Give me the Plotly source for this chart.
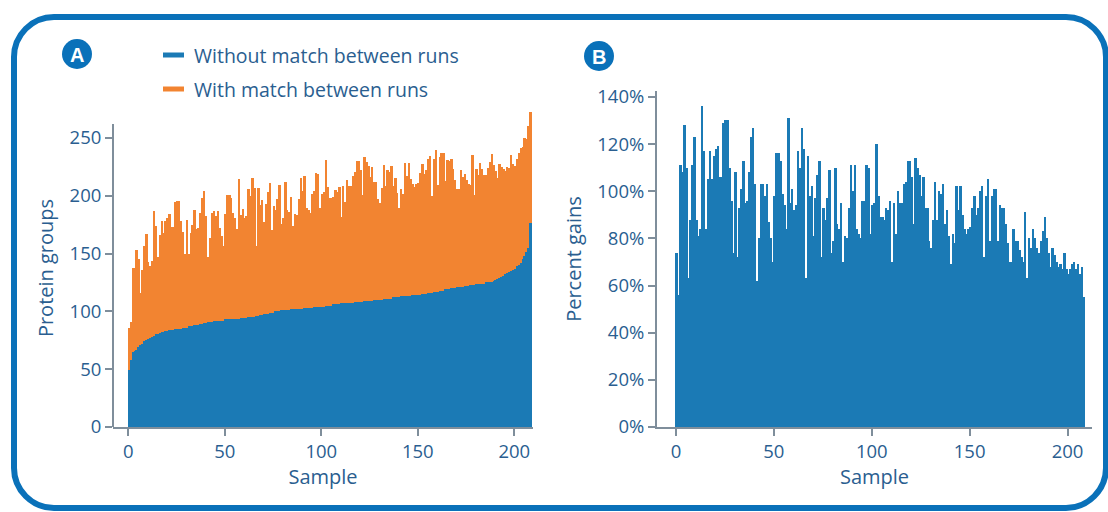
import plotly.graph_objects as go

# Protein groups per sample identified without match between runs (sorted ascending)
without_mbr = [
    49, 58, 65, 66, 67, 69, 71, 72, 74, 75, 76,
    77, 78, 79, 80, 80, 81, 82, 82, 83, 83,
    84, 84, 84, 85, 85, 85, 85, 86, 86, 86,
    87, 87, 87, 88, 88, 88, 89, 89, 90, 90,
    91, 91, 91, 92, 92, 92, 92, 92, 92, 93,
    93, 93, 93, 93, 93, 93, 93, 94, 94, 94,
    94, 95, 95, 95, 95, 96, 96, 97, 97, 98,
    98, 98, 99, 99, 99, 100, 100, 100, 101, 101,
    101, 101, 101, 102, 102, 102, 102, 102, 102, 102,
    103, 103, 103, 103, 103, 104, 104, 104, 104, 104,
    104, 105, 105, 105, 105, 106, 106, 106, 106, 107,
    107, 107, 107, 107, 107, 107, 108, 108, 108, 108,
    108, 109, 109, 109, 109, 109, 110, 110, 110, 110,
    110, 111, 111, 111, 111, 111, 112, 112, 112, 112,
    113, 113, 113, 113, 113, 113, 114, 114, 114, 114,
    114, 115, 115, 115, 116, 116, 116, 117, 117, 117,
    118, 118, 118, 119, 119, 119, 120, 120, 120, 121,
    121, 121, 121, 122, 122, 122, 123, 123, 123, 124,
    124, 124, 124, 124, 125, 125, 125, 125, 126, 127,
    128, 129, 130, 131, 132, 133, 134, 135, 136, 137,
    139, 140, 142, 145, 148, 151, 155, 176,
]

# Percent gain in protein groups when match between runs is enabled
gain_pct = [
    74, 56, 111, 108, 128, 110, 63, 88, 111, 123,
    88, 81, 84, 136, 117, 84, 105, 117, 105, 115,
    118, 119, 106, 106, 129, 130, 130, 110, 96, 74,
    108, 72, 93, 101, 113, 95, 96, 108, 123, 127,
    103, 62, 80, 103, 103, 98, 103, 87, 80, 70,
    98, 116, 116,
    113, 99, 94, 84, 131, 95, 101, 92, 94, 117,
    110, 127, 118, 63, 115, 98, 102, 81, 97, 107,
    113, 72, 93, 88, 97, 109, 74, 79, 110, 86,
    84, 95, 70, 81, 80, 93, 111, 100, 111, 84,
    82, 80, 96, 96, 111, 110, 82, 94, 95, 120,
    98, 89,
    89, 88, 93, 92, 96, 70, 95, 82, 100, 95,
    95, 103, 104, 113, 113, 106, 86, 114, 110, 107,
    98, 106, 93, 93, 79, 76, 88, 104, 88, 100,
    99, 103, 86, 92, 81, 69, 82, 78, 102, 92,
    102, 90, 84, 82, 84, 85, 93, 98, 90, 93,
    100, 102, 72, 98,
    105, 79, 98, 101, 101, 79, 94, 93, 93, 86,
    78, 70, 70, 84, 79, 79, 75, 72, 70, 91,
    63, 80, 76, 84, 80, 76, 74, 79, 83, 89,
    80, 74, 68, 76, 73, 70, 68, 69, 67, 74,
    67, 65, 67, 69, 70, 67, 69, 65, 68, 55,
]

samples = list(range(len(without_mbr)))
with_mbr = [w * (1 + g / 100.0) for w, g in zip(without_mbr, gain_pct)]

series_names = ["Without match between runs", "With match between runs"]
y_ticks_a = [0, 50, 100, 150, 200, 250]
y_ticks_b = [0, 20, 40, 60, 80, 100, 120, 140]
y_ticktext_b = [f"{v}%" for v in y_ticks_b]
x_ticks = [0, 50, 100, 150, 200]

BLUE = "#1b7ab5"
ORANGE = "#f28431"
TEXT = "#2a5e90"
AXIS = "#7f8e9b"
FRAME = "#0a71b9"
FONT = "Open Sans, Liberation Sans, sans-serif"

W, H = 1108, 512
AXIS_TOP_A = 262  # the left spine of panel A stops here; taller bars rise above it


def px(x):
    return x / W


def py(y):
    return 1 - y / H


fig = go.Figure()

bar_common = dict(width=1, offset=0, showlegend=False, hoverinfo="skip")

# Panel A: total with MBR drawn behind, without MBR in front
fig.add_trace(go.Bar(x=samples, y=with_mbr, marker=dict(color=ORANGE, line=dict(width=0)),
                     xaxis="x", yaxis="y", **bar_common))
fig.add_trace(go.Bar(x=samples, y=without_mbr, marker=dict(color=BLUE, line=dict(width=0)),
                     xaxis="x", yaxis="y", **bar_common))
# Panel B: percent gains
fig.add_trace(go.Bar(x=samples, y=gain_pct, marker=dict(color=BLUE, line=dict(width=0)),
                     xaxis="x2", yaxis="y2", **bar_common))

axis_common = dict(
    linecolor=AXIS, linewidth=2, ticks="outside", ticklen=7,
    tickcolor=AXIS, tickwidth=1.5, showgrid=False, zeroline=False, automargin=False,
    tickfont=dict(family=FONT, size=18.5, color=TEXT),
    title_font=dict(family=FONT, size=20, color=TEXT),
)

fig.update_layout(
    width=W, height=H, autosize=False,
    margin=dict(l=0, r=0, t=0, b=0, pad=0),
    paper_bgcolor="white", plot_bgcolor="white",
    barmode="overlay", bargap=0,
    xaxis=dict(domain=[px(113), px(533)], range=[-7.9, 209.7], anchor="y", showline=True,
               tickvals=x_ticks, title=dict(text="Sample", standoff=1), **axis_common),
    yaxis=dict(domain=[85 / H, 403 / H], range=[0, 275], anchor="x", showline=False,
               tickvals=y_ticks_a, title=dict(text="Protein groups", standoff=10), **axis_common),
    xaxis2=dict(domain=[px(657), px(1092)], range=[-9.7, 212.5], anchor="y2", showline=True,
                tickvals=x_ticks, title=dict(text="Sample", standoff=1), **axis_common),
    yaxis2=dict(domain=[85 / H, 421 / H], range=[0, 142.5], anchor="x2", showline=True,
                tickvals=y_ticks_b, ticktext=y_ticktext_b,
                title=dict(text="Percent gains", standoff=10), **axis_common),
)

shapes = []
annotations = []

# Left spine of panel A
shapes.append(dict(type="line", xref="x domain", yref="y", x0=0, x1=0, y0=0, y1=AXIS_TOP_A,
                   line=dict(color=AXIS, width=2), layer="above"))

# Rounded frame around both panels
x0, y0, x1, y1, r = 14, 17, 1106, 508, 40
k = 0.45
path = (
    f"M {px(x0 + r)},{py(y0)} L {px(x1 - r)},{py(y0)} "
    f"C {px(x1 - r * k)},{py(y0)} {px(x1)},{py(y0 + r * k)} {px(x1)},{py(y0 + r)} "
    f"L {px(x1)},{py(y1 - r)} "
    f"C {px(x1)},{py(y1 - r * k)} {px(x1 - r * k)},{py(y1)} {px(x1 - r)},{py(y1)} "
    f"L {px(x0 + r)},{py(y1)} "
    f"C {px(x0 + r * k)},{py(y1)} {px(x0)},{py(y1 - r * k)} {px(x0)},{py(y1 - r)} "
    f"L {px(x0)},{py(y0 + r)} "
    f"C {px(x0)},{py(y0 + r * k)} {px(x0 + r * k)},{py(y0)} {px(x0 + r)},{py(y0)} Z"
)
shapes.append(dict(type="path", xref="paper", yref="paper", path=path,
                   line=dict(color=FRAME, width=6), fillcolor="rgba(0,0,0,0)", layer="above"))

# Panel badges
for label, cx, cy in [("A", 77, 54), ("B", 599, 56)]:
    rad = 15
    shapes.append(dict(type="circle", xref="paper", yref="paper",
                       x0=px(cx - rad), x1=px(cx + rad), y0=py(cy + rad), y1=py(cy - rad),
                       fillcolor=FRAME, line=dict(width=0)))
    annotations.append(dict(text=f"<b>{label}</b>", x=px(cx), y=py(cy + 1), xref="paper", yref="paper",
                            showarrow=False, xanchor="center", yanchor="middle",
                            font=dict(family="Liberation Sans, Arial, sans-serif", size=20, color="white")))

# Legend entries
for name, color, ly in [(series_names[0], BLUE, 55), (series_names[1], ORANGE, 89)]:
    shapes.append(dict(type="line", xref="paper", yref="paper", x0=px(163), x1=px(184), y0=py(ly), y1=py(ly),
                       line=dict(color=color, width=5)))
    annotations.append(dict(text=name, x=px(192), y=py(ly), xref="paper", yref="paper", showarrow=False,
                            xanchor="left", yanchor="middle",
                            font=dict(family=FONT, size=19.5, color=TEXT)))

fig.update_layout(shapes=shapes, annotations=annotations)

fig.write_html("out.html")
